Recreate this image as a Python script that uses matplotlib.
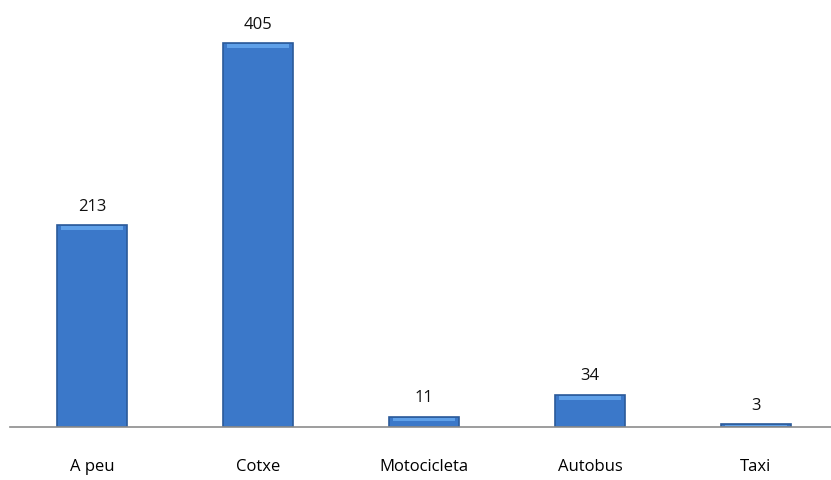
import matplotlib.pyplot as plt

categories = ['A peu', 'Cotxe', 'Motocicleta', 'Autobus', 'Taxi']
values = [213, 405, 11, 34, 3]

plt.rcParams['font.family'] = ['Open Sans', 'DejaVu Sans']

fig = plt.figure(figsize=(8.31, 4.81), dpi=100)
ax = fig.add_axes([10 / 831, 53 / 481, 821 / 831, 418 / 481])

x = range(len(categories))
bars = ax.bar(x, values, width=0.42, color='#3b78c9', edgecolor='#2b5a9a', linewidth=1.2)

# lighter strip on top of each bar
for b in bars:
    h = b.get_height()
    strip = min(4, h * 0.4)
    ax.bar(b.get_x() + b.get_width() / 2, strip, bottom=h - strip - 1,
           width=b.get_width() * 0.9, color='#5fa0e8', linewidth=0)

for i, v in enumerate(values):
    ax.text(i, v + 12, str(v), ha='center', va='bottom', fontsize=12, color='#111111')

ax.set_xlim(-82 / 166, 739 / 166)
ax.set_ylim(0, 441)
ax.set_xticks(list(x))
ax.set_xticklabels(categories, fontsize=12)
ax.tick_params(axis='x', length=0, pad=22)
ax.set_yticks([])
for s in ['top', 'left', 'right']:
    ax.spines[s].set_visible(False)
ax.spines['bottom'].set_color('#8c8c8c')
ax.spines['bottom'].set_linewidth(1.2)

fig.savefig('out.png', dpi=100)
